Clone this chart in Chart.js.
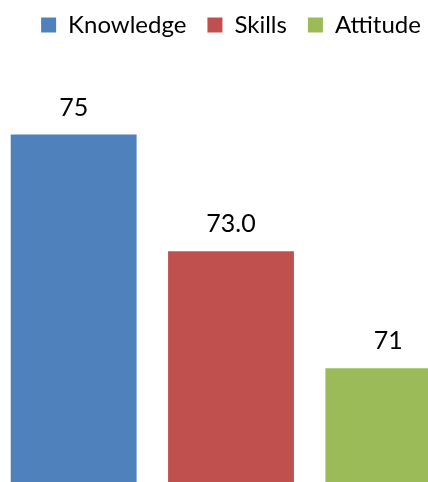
<!DOCTYPE html>
<html>
<head>
<meta charset="utf-8">
<script src="https://cdn.jsdelivr.net/npm/chart.js@4.4.1/dist/chart.umd.min.js"></script>
<style>
  html, body { margin: 0; padding: 0; background: #fff; overflow: hidden; }
  #wrap { position: absolute; left: -5px; top: 0; width: 472px; height: 482px; }
</style>
</head>
<body>
<div id="wrap"><canvas id="chart"></canvas></div>
<script>
// 系列名・値・表示ラベル
const seriesNames = ['Knowledge', 'Skills', 'Attitude'];
const seriesValues = [75, 73.0, 71];
const valueLabels = ['75', '73.0', '71'];
const seriesColors = ['#4F81BD', '#C0504D', '#9BBB59'];

const fontFamily = "Lato, 'Open Sans', sans-serif";

// 棒の上に値を描くプラグイン
const valueLabelPlugin = {
  id: 'valueLabels',
  afterDatasetsDraw(chart) {
    const ctx = chart.ctx;
    ctx.save();
    ctx.font = `25px ${fontFamily}`;
    ctx.fillStyle = '#000';
    ctx.textAlign = 'center';
    ctx.textBaseline = 'middle';
    chart.data.datasets.forEach((ds, i) => {
      const bar = chart.getDatasetMeta(i).data[0];
      if (!bar) return;
      ctx.fillText(valueLabels[i], bar.x, bar.y - 27);
    });
    ctx.restore();
  }
};

new Chart(document.getElementById('chart'), {
  type: 'bar',
  data: {
    labels: [''],
    datasets: seriesNames.map((name, i) => ({
      label: name,
      data: [seriesValues[i]],
      backgroundColor: seriesColors[i],
      borderWidth: 0
    }))
  },
  options: {
    responsive: true,
    maintainAspectRatio: false,
    animation: false,
    layout: { padding: { top: -8, left: 0, right: 0, bottom: 0 } },
    datasets: {
      bar: { barPercentage: 0.8, categoryPercentage: 1.0 }
    },
    plugins: {
      legend: {
        position: 'top',
        labels: {
          font: { family: fontFamily, size: 24 },
          color: '#000',
          boxWidth: 15,
          boxHeight: 15,
          padding: 21
        }
      },
      tooltip: { enabled: false }
    },
    scales: {
      x: { display: false },
      y: { display: false, min: 69.05, max: 76.5 }
    }
  },
  plugins: [valueLabelPlugin]
});
</script>
</body>
</html>
